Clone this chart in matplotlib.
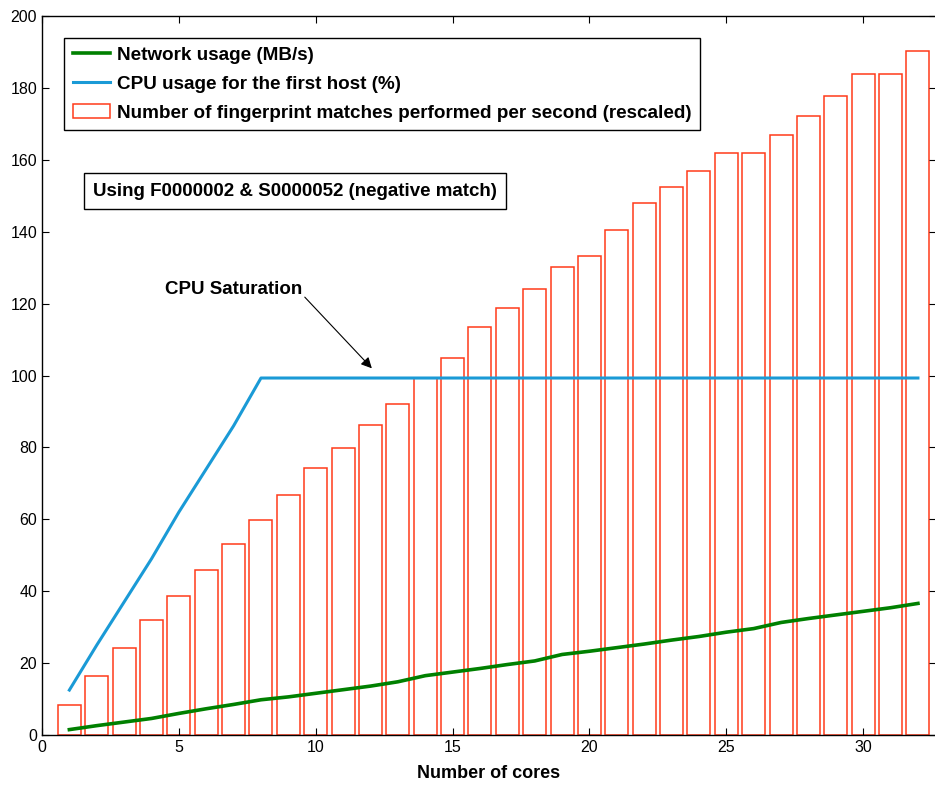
import matplotlib
matplotlib.use("Agg")
import matplotlib.pyplot as plt

cores = list(range(1, 33))

# matches per second (rescaled) - bars
matches = [8.3, 16.5, 24.3, 32.0, 38.7, 46.0, 53.1, 59.7, 66.8, 74.2,
           79.8, 86.1, 92.2, 99.2, 105.0, 113.6, 118.9, 124.2, 130.2, 133.3,
           140.4, 148.1, 152.4, 156.9, 161.8, 161.8, 166.8, 172.1, 177.7, 184.0,
           184.0, 190.3]

# CPU usage for the first host (%)
cpu = [12.5, 25.0, 37.0, 49.0, 62.0, 74.0, 86.0, 99.3, 99.3, 99.3,
       99.3, 99.3, 99.3, 99.3, 99.3, 99.3, 99.3, 99.3, 99.3, 99.3,
       99.3, 99.3, 99.3, 99.3, 99.3, 99.3, 99.3, 99.3, 99.3, 99.3,
       99.3, 99.3]

# network usage (MB/s)
network = [1.5, 2.6, 3.6, 4.6, 6.0, 7.3, 8.5, 9.8, 10.6, 11.6,
           12.6, 13.6, 14.8, 16.5, 17.5, 18.5, 19.6, 20.6, 22.4, 23.3,
           24.3, 25.3, 26.4, 27.4, 28.6, 29.6, 31.3, 32.4, 33.4, 34.4,
           35.4, 36.6]

plt.rcParams['font.family'] = ['Liberation Sans', 'DejaVu Sans']

fig = plt.figure(figsize=(9.35, 7.85), dpi=100)
ax = fig.add_axes([42/935, 50/785, 894/935, 719/785])

ax.plot(cores, network, color='#008000', lw=2.6, label='Network usage (MB/s)')
ax.plot(cores, cpu, color='#1a9ad6', lw=2.2, label='CPU usage for the first host (%)')
ax.bar(cores, matches, width=0.84, facecolor='none', edgecolor='#ff3a1a', lw=1.1,
       label='Number of fingerprint matches performed per second (rescaled)')

ax.set_xlim(0, 32.66)
ax.set_ylim(0, 200)
ax.set_xticks(range(0, 35, 5))
ax.set_yticks(range(0, 220, 20))
ax.tick_params(direction='in', length=5, top=True, right=True, labelsize=11.5)
for s in ax.spines.values():
    s.set_linewidth(1.0)
ax.set_xlabel('Number of cores', fontsize=13, fontweight='bold', labelpad=7)

leg = ax.legend(loc='upper left', bbox_to_anchor=(22/894, 1 - 22/719),
                fancybox=False, edgecolor='black', framealpha=1,
                prop={'size': 13.6, 'weight': 'bold'}, handlelength=2.0,
                borderpad=0.45, labelspacing=0.62, handletextpad=0.35,
                borderaxespad=0)
leg.get_frame().set_linewidth(1.0)

ax.text(1.86, 151.3, 'Using F0000002 & S0000052 (negative match)',
        fontsize=13.5, fontweight='bold', va='center', ha='left',
        bbox=dict(boxstyle='square,pad=0.5', facecolor='white', edgecolor='black', lw=1.0))

ax.text(7.0, 124.0, 'CPU Saturation', fontsize=13.5, fontweight='bold',
        ha='center', va='center')
ax.annotate('', xy=(12.05, 102.0), xytext=(9.6, 121.8),
            arrowprops=dict(arrowstyle='-|>', color='black', lw=0.8,
                            mutation_scale=16, shrinkA=0, shrinkB=0))

fig.savefig('out.png', dpi=100)
